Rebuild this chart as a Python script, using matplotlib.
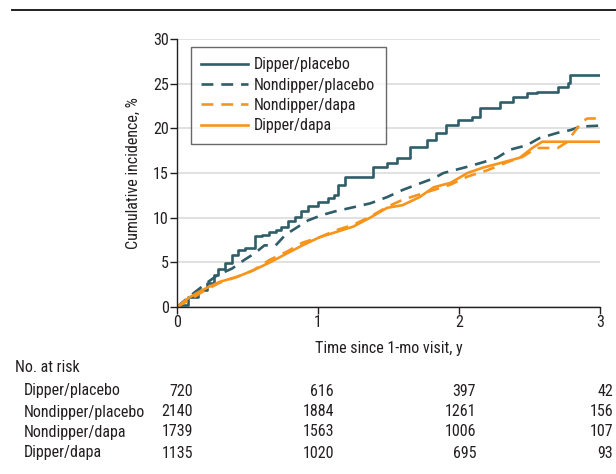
import numpy as np
import matplotlib
matplotlib.use('Agg')
import matplotlib.pyplot as plt

plt.rcParams['font.family'] = ['Roboto Condensed', 'DejaVu Sans']
plt.rcParams['text.color'] = '#231f20'
plt.rcParams['axes.labelcolor'] = '#231f20'
plt.rcParams['xtick.color'] = '#231f20'
plt.rcParams['ytick.color'] = '#231f20'

# curve data (time in years, cumulative incidence in %)
dp_t = [0, 0.01, 0.08, 0.15, 0.21, 0.26, 0.29, 0.34, 0.39, 0.43, 0.48, 0.55, 0.60,
        0.65, 0.70, 0.74, 0.79, 0.84, 0.88, 0.93, 1.00, 1.07, 1.11, 1.14, 1.19, 1.26,
        1.30, 1.39, 1.49, 1.56, 1.65, 1.77, 1.84, 1.91, 1.99, 2.09, 2.15, 2.29, 2.38,
        2.48, 2.55, 2.70, 2.77, 2.79, 3.0]
dp_y = [0, 0.2, 1.15, 1.9, 2.65, 3.6, 4.3, 4.9, 5.8, 6.4, 6.6, 7.9, 8.1,
        8.4, 8.6, 9.0, 9.6, 10.1, 10.7, 11.3, 11.8, 12.2, 12.5, 13.7, 14.6, 14.6,
        14.6, 15.7, 16.1, 16.7, 17.9, 18.7, 19.5, 20.4, 20.9, 21.3, 22.3, 23.0, 23.5,
        24.0, 24.1, 24.6, 25.1, 26.0, 26.0]

np_t = [0, 0.06, 0.13, 0.22, 0.29, 0.39, 0.48, 0.55, 0.62, 0.70, 0.77, 0.86, 0.93,
        1.03, 1.12, 1.26, 1.37, 1.49, 1.60, 1.70, 1.82, 1.89, 2.06, 2.17, 2.27, 2.36,
        2.48, 2.57, 2.70, 2.79, 2.86, 3.0]
np_y = [0, 0.8, 1.7, 2.8, 3.6, 4.3, 5.3, 6.0, 6.9, 6.9, 8.1, 9.0, 9.7,
        10.3, 10.7, 11.2, 11.6, 12.3, 13.1, 13.7, 14.4, 15.0, 15.7, 16.2, 16.7, 17.6,
        18.1, 18.9, 19.5, 19.8, 20.2, 20.3]

nd_t = [0, 0.09, 0.18, 0.30, 0.43, 0.54, 0.66, 0.78, 0.89, 1.01, 1.13, 1.25, 1.37,
        1.49, 1.60, 1.72, 1.82, 1.94, 2.06, 2.20, 2.34, 2.45, 2.55, 2.70, 2.77, 2.79,
        2.87, 2.91, 3.0]
nd_y = [0, 0.8, 1.7, 2.7, 3.4, 4.1, 5.3, 6.2, 7.2, 7.8, 8.6, 9.2, 10.1,
        11.2, 12.0, 12.6, 13.1, 13.7, 14.6, 15.3, 16.2, 16.8, 17.8, 17.8, 18.5, 19.0,
        20.7, 21.1, 21.1]

dd_t = [0, 0.09, 0.18, 0.30, 0.43, 0.54, 0.66, 0.78, 0.89, 1.01, 1.13, 1.25, 1.37,
        1.49, 1.60, 1.72, 1.82, 1.94, 2.06, 2.17, 2.29, 2.43, 2.52, 2.59, 3.0]
dd_y = [0, 1.1, 1.9, 2.8, 3.4, 4.1, 5.0, 6.0, 6.9, 7.8, 8.4, 9.0, 10.0,
        11.1, 11.4, 12.3, 13.4, 13.9, 15.0, 15.6, 16.1, 16.7, 17.8, 18.5, 18.5]

groups = ['Dipper/placebo', 'Nondipper/placebo', 'Nondipper/dapa', 'Dipper/dapa']
risk_times = [0, 1, 2, 3]
at_risk = [
    [720, 616, 397, 42],
    [2140, 1884, 1261, 156],
    [1739, 1563, 1006, 107],
    [1135, 1020, 695, 93],
]

teal = '#2f5d68'
orange = '#f7941d'
fs = 11.5

fig = plt.figure(figsize=(6.16, 4.74), dpi=100)
ax = fig.add_axes([177/616, 1 - 307/474, 423/616, 268/474])

ax.step(dp_t, dp_y, where='post', color=teal, lw=1.9, label=groups[0])
ax.plot(np_t, np_y, color=teal, lw=1.9, ls=(0, (4.5, 3)), label=groups[1])
ax.plot(nd_t, nd_y, color=orange, lw=1.9, ls=(0, (4.5, 3)), label=groups[2])
ax.plot(dd_t, dd_y, color=orange, lw=1.9, label=groups[3])

ax.set_xlim(0, 3)
ax.set_ylim(0, 30)
ax.set_xticks([0, 1, 2, 3])
ax.set_yticks(np.arange(0, 31, 5))
ax.grid(axis='y', color='#dcdcdc', lw=1.2)
ax.set_axisbelow(True)
for s in ['top', 'right']:
    ax.spines[s].set_visible(False)
for s in ['left', 'bottom']:
    ax.spines[s].set_color('#231f20')
    ax.spines[s].set_linewidth(1.0)
ax.tick_params(labelsize=fs, length=5, width=1.0, direction='out', pad=1)
ax.set_ylabel('Cumulative incidence, %', fontsize=fs, labelpad=9)
ax.set_xlabel('Time since 1-mo visit, y', fontsize=fs, labelpad=8)

leg = ax.legend(loc='upper left', bbox_to_anchor=(14/423, 1 - 8/268), fontsize=fs,
                frameon=True, fancybox=False, handlelength=2.9, borderpad=0.65,
                labelspacing=0.33, handletextpad=0.4, borderaxespad=0)
leg.get_frame().set_edgecolor('#444444')
leg.get_frame().set_linewidth(1.0)

# top rule
fig.add_artist(plt.Line2D([12/616, 1], [1 - 10/474, 1 - 10/474], color='#231f20', lw=1.4))

# number at risk table
fig.text(15/616, 1 - 368/474, 'No. at risk', fontsize=fs, va='center')
row_y = [391, 412, 432, 453]
col_x = [193, 334, 476, 613]
for i, g in enumerate(groups):
    fig.text(24/616, 1 - row_y[i]/474, g, fontsize=fs, va='center')
    for j, t in enumerate(risk_times):
        fig.text(col_x[j]/616, 1 - row_y[i]/474, str(at_risk[i][j]), fontsize=fs,
                 va='center', ha='right')

fig.savefig('out.png', dpi=100)
